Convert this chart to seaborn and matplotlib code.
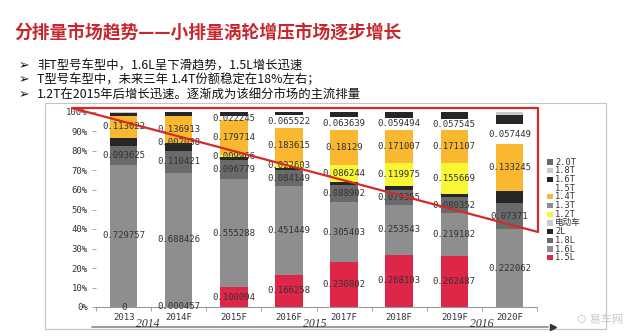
import numpy as np
import pandas as pd
import matplotlib
matplotlib.use("Agg")
import matplotlib.pyplot as plt
import seaborn as sns
from matplotlib.patches import Rectangle
from matplotlib.lines import Line2D
from matplotlib.ticker import FixedLocator, FuncFormatter

# ---------------- data ----------------
years = ["2013", "2014F", "2015F", "2016F", "2017F", "2018F", "2019F", "2020F"]
nan = np.nan
v_15L = [0, 0.000457, 0.100094, 0.166258, 0.230802, 0.268103, 0.262487, nan]
v_16L = [0.729757, 0.688426, 0.555288, 0.451449, 0.305403, 0.253543, 0.219182, 0.222062]
v_18L = [0.093625, 0.110421, 0.096779, 0.084149, 0.088902, 0.079355, 0.080352, 0.07371]
v_2L = [0.044, 0.042, 0.015, 0.012, 0.017, 0.017, 0.020, 0.034]
v_ev = [0, 0, 0, 0, 0, 0, 0, 0]
v_12T = [nan, 0.002038, 0.009966, 0.022603, 0.086244, 0.119975, 0.155669, nan]
v_13T = [0, 0, 0, 0, 0, 0, 0, 0]
v_14T = [0.113022, 0.136913, 0.179714, 0.183615, 0.18129, 0.171007, 0.171107, 0.133245]
v_15T = [nan, nan, 0.022245, 0.065522, 0.063639, 0.059494, 0.057545, 0.057449]
v_16T = [0.0156, 0.018, 0.021, 0.014, 0.027, 0.031, 0.034, 0.027]
v_18T = [0.004, 0.002, 0, 0, 0, 0, 0, 0.008]
v_20T = [0, 0, 0, 0, 0, 0, 0, 0]

series_names = ["1.5L", "1.6L", "1.8L", "2L", "电动车", "1.2T", "1.3T", "1.4T",
                "1.5T", "1.6T", "1.8T", "2.0T"]
series_values = [v_15L, v_16L, v_18L, v_2L, v_ev, v_12T, v_13T, v_14T,
                 v_15T, v_16T, v_18T, v_20T]
series_colors = ["#DE2649", "#8E8E8E", "#6A6A6A", "#262626", "#C9C9C9", "#F9F733",
                 "#8E8E8E", "#F9B82F", "#FFFFFF", "#262626", "#C9C9C9", "#6A6A6A"]
labelled = ["1.5L", "1.6L", "1.8L", "1.2T", "1.4T", "1.5T"]

title = "分排量市场趋势——小排量涡轮增压市场逐步增长"
bullets = ["非T型号车型中，1.6L呈下滑趋势，1.5L增长迅速",
           "T型号车型中，未来三年 1.4T份额稳定在18%左右；",
           "1.2T在2015年后增长迅速。逐渐成为该细分市场的主流排量"]
period_labels = ["2014", "2015", "2016"]

# ---------------- setup ----------------
sns.set_theme(style="white")
MONO = ["DejaVu Sans Mono", "Noto Sans CJK SC"]
CJK = ["Noto Sans CJK SC", "DejaVu Sans"]
plt.rcParams["font.family"] = MONO

W, H = 630, 336
fig = plt.figure(figsize=(6.3, 3.36), dpi=100)
fig.patch.set_facecolor("white")


def fx(x):
    return x / W


def fy(y):
    return 1 - y / H


# slide frame
fig.add_artist(Rectangle((fx(45), fy(329)), (606 - 45) / W, (329 - 103) / H,
                         transform=fig.transFigure, fill=False,
                         edgecolor="#C4C4C4", lw=0.8))

ax = fig.add_axes([fx(96), fy(307), (537 - 96) / W, (307 - 112) / H])
ax.set_facecolor("none")

raw = pd.DataFrame({n: v for n, v in zip(series_names, series_values)}, index=years)
vals = raw.fillna(0)
share = vals.div(vals.sum(axis=1), axis=0)
cum = share.cumsum(axis=1)

for name, col in reversed(list(zip(series_names, series_colors))):
    sns.barplot(x=years, y=cum[name].values, color=col, width=0.5,
                saturation=1, order=years, ax=ax, linewidth=0)

for name in labelled:
    for i, yr in enumerate(years):
        v = raw.loc[yr, name]
        if pd.isna(v):
            continue
        c = cum.loc[yr, name] - share.loc[yr, name] / 2
        ax.text(i, c, f"{v:g}", ha="center", va="center", fontsize=6.5,
                color="#333333", family=MONO, zorder=5)

ax.set_xlim(-0.5, 7.5)
ax.set_ylim(0, 1)
ax.set_xlabel("")
ax.set_ylabel("")
ax.yaxis.set_major_locator(FixedLocator(np.arange(0, 1.001, 0.1)))
ax.yaxis.set_major_formatter(FuncFormatter(lambda v, p: f"{v*100:.0f}%"))
ax.xaxis.set_minor_locator(FixedLocator(np.arange(-0.5, 8, 1)))
ax.tick_params(axis="y", length=3, width=0.6, color="#999999", pad=3,
               labelsize=6.5, labelcolor="#333333", left=True)
ax.tick_params(axis="x", which="major", length=0, pad=4, labelsize=6.5,
               labelcolor="#333333")
ax.tick_params(axis="x", which="minor", length=3, width=0.6, color="#999999",
               bottom=True, direction="out")
for s in ["top", "right", "left"]:
    ax.spines[s].set_visible(False)
ax.spines["bottom"].set_color("#999999")
ax.spines["bottom"].set_linewidth(0.8)

# legend (manual, reversed order)
for k, (name, col) in enumerate(reversed(list(zip(series_names, series_colors)))):
    yy = 162 + k * 8.7
    fig.add_artist(Rectangle((fx(547), fy(yy + 2.6)), 5.5 / W, 5.2 / H,
                             transform=fig.transFigure, facecolor=col,
                             edgecolor="none"))
    fig.text(fx(555), fy(yy), name, fontsize=6.2, color="#333333",
             va="center", ha="left", family=MONO)

# red triangle annotation
tri_x = [fx(72), fx(538), fx(538), fx(72)]
tri_y = [fy(108), fy(108), fy(232), fy(108)]
fig.add_artist(Line2D(tri_x, tri_y, transform=fig.transFigure,
                      color="#D42A2A", lw=1.6, zorder=10))

# title & bullets
fig.text(fx(14), fy(33), title, fontsize=12.8, fontweight="bold",
         color="#C8262D", family=CJK, va="center", ha="left")
for j, (b, yy) in enumerate(zip(bullets, [66, 80, 95])):
    fig.text(fx(19), fy(yy), "➢", fontsize=9, color="#111111",
             family=["DejaVu Sans"], va="center", ha="left")
    fig.text(fx(37), fy(yy), b, fontsize=8.9, color="#111111",
             family=CJK, va="center", ha="left")

# period arrow and labels
fig.add_artist(Line2D([fx(92), fx(548)], [fy(327), fy(327)],
                      transform=fig.transFigure, color="#8A8A8A", lw=1.2))
fig.add_artist(Line2D([fx(553)], [fy(327)], transform=fig.transFigure,
                      marker=">", color="#333333", markersize=4, lw=0))
for lbl, xx in zip(period_labels, [148, 315, 482]):
    fig.text(fx(xx), fy(324), lbl, fontsize=8.5, style="italic",
             family=["Liberation Serif"], color="#333333",
             va="center", ha="center")

# watermark
fig.text(fx(600), fy(320), "⊙ 易车网", fontsize=8, color="#C8C8C8",
         family=CJK, va="center", ha="center")

fig.savefig("out.png", dpi=100)
